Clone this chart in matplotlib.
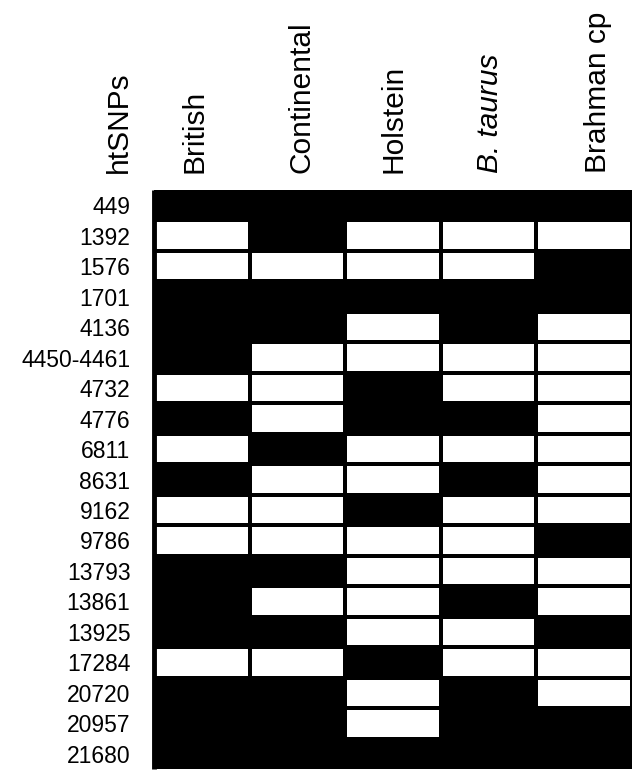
import numpy as np
import matplotlib
matplotlib.use("Agg")
import matplotlib.pyplot as plt
from matplotlib.colors import ListedColormap
import matplotlib.transforms as mtransforms

plt.rcParams['font.family'] = ['Liberation Sans', 'DejaVu Sans']

# htSNP positions (rows)
snps = ['449', '1392', '1576', '1701', '4136', '4450-4461', '4732', '4776',
        '6811', '8631', '9162', '9786', '13793', '13861', '13925', '17284',
        '20720', '20957', '21680']

# breed groups (columns)
groups = ['British', 'Continental', 'Holstein', 'B. taurus', 'Brahman cp']

# 1 = black cell, 0 = white cell, one list per group
british     = [1, 0, 0, 1, 1, 1, 0, 1, 0, 1, 0, 0, 1, 1, 1, 0, 1, 1, 1]
continental = [1, 1, 0, 1, 1, 0, 0, 0, 1, 0, 0, 0, 1, 0, 1, 0, 1, 1, 1]
holstein    = [1, 0, 0, 1, 0, 0, 1, 1, 0, 0, 1, 0, 0, 0, 0, 1, 0, 0, 1]
btaurus     = [1, 0, 0, 1, 1, 0, 0, 1, 0, 1, 0, 0, 0, 1, 0, 0, 1, 1, 1]
brahman     = [1, 0, 1, 1, 0, 0, 0, 0, 0, 0, 0, 1, 0, 0, 1, 0, 0, 1, 1]

grid = np.array([british, continental, holstein, btaurus, brahman]).T

fig = plt.figure(figsize=(6.32, 7.70), dpi=100)
ax = fig.add_axes([154 / 632, 1 / 770, 478 / 632, 579 / 770])

cmap = ListedColormap(['white', 'black'])
ax.pcolormesh(np.arange(len(groups) + 1) - 0.5, np.arange(len(snps) + 1) - 0.5,
              grid, cmap=cmap, vmin=0, vmax=1, edgecolors='black', linewidth=1.6)
ax.set_xlim(-0.5, len(groups) - 0.5)
ax.set_ylim(len(snps) - 0.5, -0.5)

ax.set_xticks([])
ax.set_yticks(range(len(snps)))
ax.set_yticklabels(snps, fontsize=16.5)
ax.tick_params(axis='y', length=0, pad=17)
for s in ['top', 'right', 'bottom']:
    ax.spines[s].set_visible(False)
ax.spines['left'].set_linewidth(3.5)
ax.spines['left'].set_capstyle('butt')

# column headers, rotated (small pixel shifts to follow the original layout)
header_shift = [-7, 4, 1, 1, 14]
trans = mtransforms.blended_transform_factory(ax.transData, fig.transFigure)
for i, g in enumerate(groups):
    style = 'italic' if g == 'B. taurus' else 'normal'
    t = trans + mtransforms.ScaledTranslation(header_shift[i] / 100, 0, fig.dpi_scale_trans)
    ax.text(i, 1 - 173 / 770, g, transform=t, rotation=90,
            rotation_mode='anchor', ha='left', va='center',
            fontsize=21.5, fontstyle=style)
fig.text(119 / 632, 1 - 173 / 770, 'htSNPs', rotation=90,
         rotation_mode='anchor', ha='left', va='center', fontsize=21.5)

fig.savefig('out.png', dpi=100)
